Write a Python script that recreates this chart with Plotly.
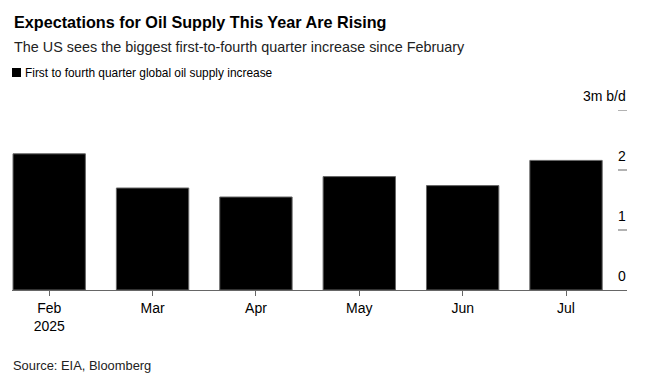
import plotly.graph_objects as go

months = ["Feb<br>2025", "Mar", "Apr", "May", "Jun", "Jul"]
supply_increase = [2.27, 1.70, 1.55, 1.89, 1.74, 2.16]
y_tick_values = [0, 1, 2, 3]
y_tick_labels = ["0", "1", "2", "3m b/d"]

FONT = "Liberation Sans, Arial, sans-serif"
W, H = 646, 378
ML, MR, MT, MB = 12, 19, 110, 88
PW, PH = W - ML - MR, H - MT - MB


def px(x):
    return (x - ML) / PW


def py(y):
    return 1 - (y - MT) / PH


fig = go.Figure()
fig.add_trace(go.Bar(
    x=list(range(len(months))), y=supply_increase,
    marker=dict(color="#000000", line=dict(color="#666666", width=1)),
    width=0.7, showlegend=False, hoverinfo="skip",
))

annotations = []
for v, lab in zip(y_tick_values, y_tick_labels):
    annotations.append(dict(x=px(628), xref="paper", y=v, yref="y", text=lab,
                            showarrow=False, xanchor="right", yanchor="bottom",
                            yshift=4, xshift=0, font=dict(family=FONT, size=14, color="#000")))
    if v > 0:
        fig.add_shape(type="line", xref="paper", yref="y", x0=px(618), x1=1.0, y0=v, y1=v,
                      line=dict(color="#666666", width=1))

annotations += [
    dict(x=px(12), y=py(22), xref="paper", yref="paper", xanchor="left", yanchor="middle",
         text="<b>Expectations for Oil Supply This Year Are Rising</b>", showarrow=False,
         font=dict(family=FONT, size=16.2, color="#000")),
    dict(x=px(12), y=py(47), xref="paper", yref="paper", xanchor="left", yanchor="middle",
         text="The US sees the biggest first-to-fourth quarter increase since February", showarrow=False,
         font=dict(family=FONT, size=14.4, color="#222")),
    dict(x=px(23), y=py(72.5), xref="paper", yref="paper", xanchor="left", yanchor="middle",
         text="First to fourth quarter global oil supply increase", showarrow=False,
         font=dict(family=FONT, size=11.9, color="#000")),
    dict(x=px(11), y=py(365), xref="paper", yref="paper", xanchor="left", yanchor="middle",
         text="Source: EIA, Bloomberg", showarrow=False,
         font=dict(family=FONT, size=12.9, color="#222")),
]
fig.add_shape(type="rect", xref="paper", yref="paper",
              x0=px(12), x1=px(21), y0=py(77), y1=py(68),
              fillcolor="#000", line=dict(width=0))

fig.update_layout(
    width=W, height=H,
    margin=dict(l=ML, r=MR, t=MT, b=MB),
    plot_bgcolor="white", paper_bgcolor="white",
    font=dict(family=FONT, size=14, color="#000"),
    xaxis=dict(range=[-0.36, 5.59], tickmode="array", tickvals=list(range(len(months))),
               ticktext=months, ticks="outside", ticklen=5, tickcolor="#666666",
               showline=True, linecolor="#666666", linewidth=1, showgrid=False,
               zeroline=False, tickfont=dict(family=FONT, size=14, color="#000")),
    yaxis=dict(range=[0, 3], showticklabels=False, showgrid=False, zeroline=False,
               ticks=""),
    annotations=annotations,
)

fig.write_html("out.html", config={"displayModeBar": False},
               post_script="document.body.style.margin='0';")
